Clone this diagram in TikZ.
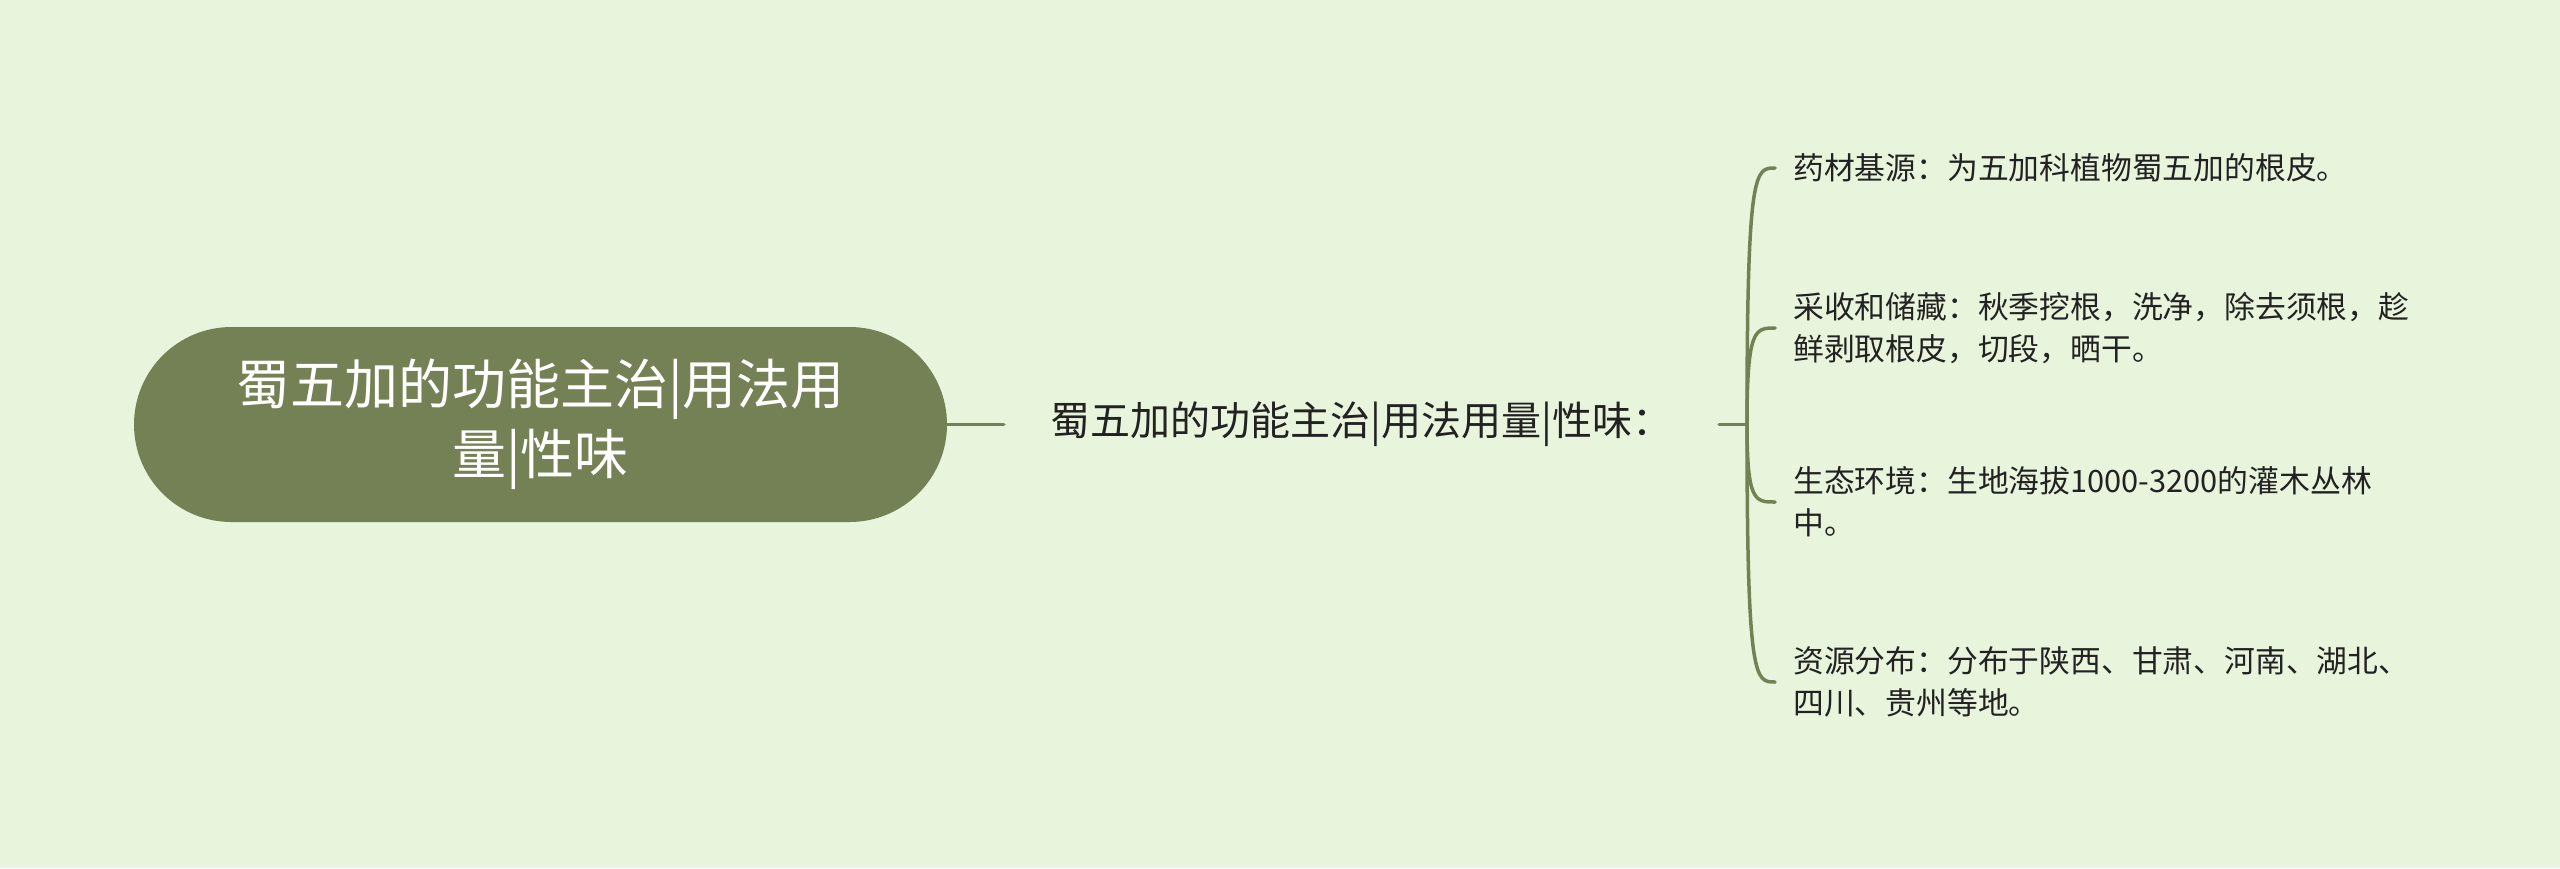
\documentclass[tikz,border=0pt]{standalone}
\usepackage{fontspec}
\setmainfont{Noto Sans CJK SC}
\usetikzlibrary{calc}
\definecolor{bg}{RGB}{232,245,220}
\definecolor{olive}{RGB}{116,129,84}
\definecolor{txt}{RGB}{34,34,34}
\tikzset{
  rootbox/.style={fill=olive, rounded corners=97.5pt, minimum width=813pt, minimum height=195pt,
    text=white, font=\fontsize{54}{70}\selectfont, align=center, inner sep=0pt},
  midbox/.style={text=txt, font=\fontsize{40}{47}\selectfont, minimum width=715pt, inner sep=0pt},
  leaf/.style={anchor=west, text=txt, font=\fontsize{30.8}{42}\selectfont, align=left, inner xsep=18pt, inner ysep=0pt},
  link/.style={draw=olive, line width=3.5pt, line cap=round}
}
\begin{document}
\begin{tikzpicture}[x=1pt,y=-1pt]
\fill[bg] (0,0) rectangle (2560,868);
\useasboundingbox (0,0) rectangle (2560,868);
\node[rootbox] (root) at (540.5,424.5) {蜀五加的功能主治|用法用\\量|性味};
\node[midbox] (mid) at (1361.5,424.5) {蜀五加的功能主治|用法用量|性味：};
\coordinate (hub) at (1747,424.5);
\node[leaf] (c1) at (1775,168) {药材基源：为五加科植物蜀五加的根皮。};
\node[leaf] (c2) at (1775,328) {采收和储藏：秋季挖根，洗净，除去须根，趁\\鲜剥取根皮，切段，晒干。};
\node[leaf] (c3) at (1775,502) {生态环境：生地海拔1000-3200的灌木丛林\\中。};
\node[leaf] (c4) at (1775,682) {资源分布：分布于陕西、甘肃、河南、湖北、\\四川、贵州等地。};
\draw[link] (root.east) -- (mid.west);
\draw[link] (mid.east) -- (hub);
\foreach \c in {c1,c2,c3,c4}{
  \draw[link] (hub) .. controls (hub |- \c.west) and ($(\c.west)+(-20,0)$) .. (\c.west);
}
\end{tikzpicture}
\end{document}
